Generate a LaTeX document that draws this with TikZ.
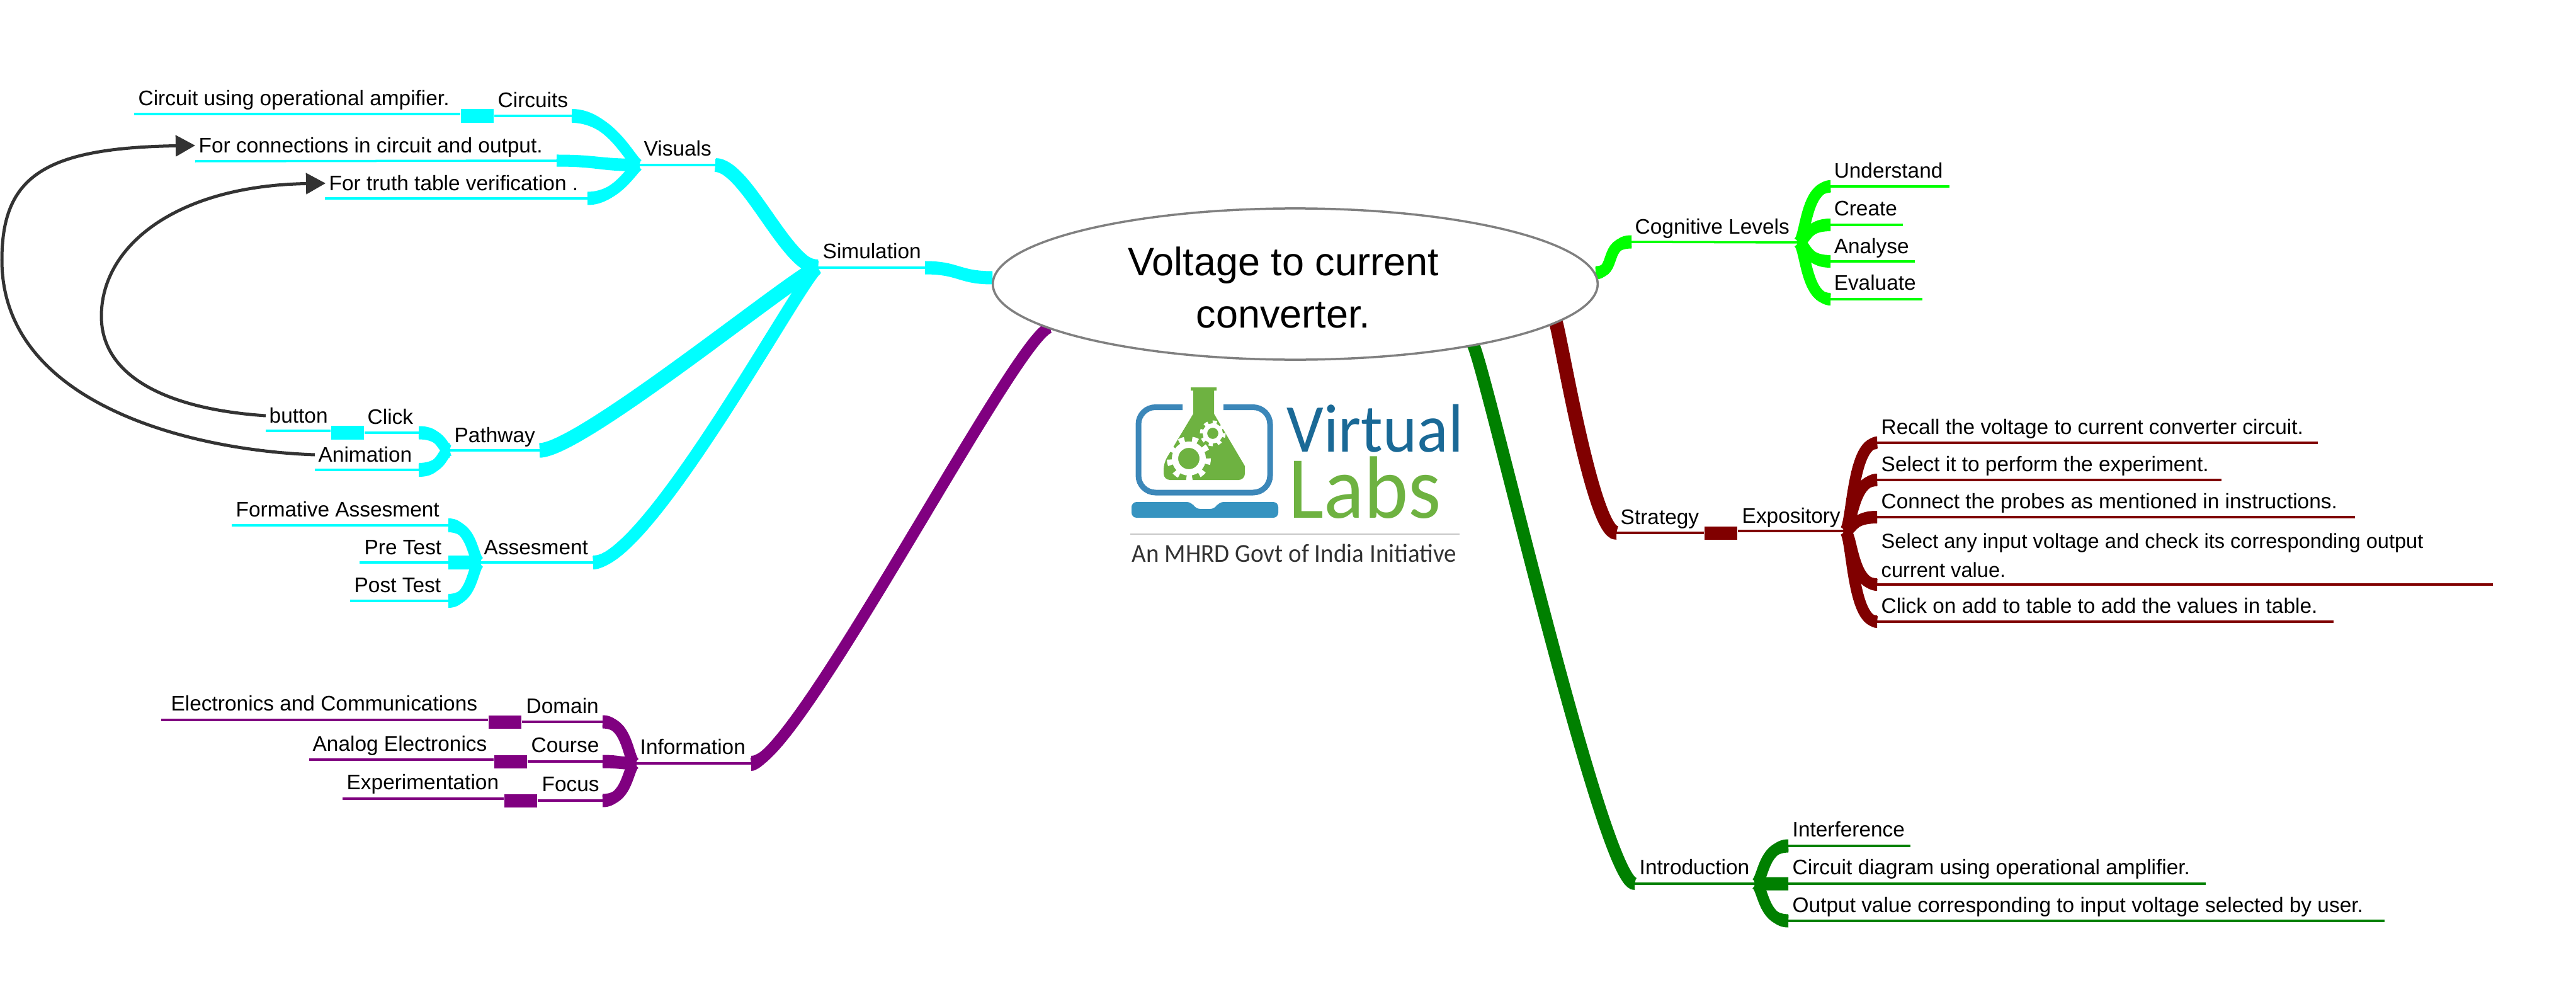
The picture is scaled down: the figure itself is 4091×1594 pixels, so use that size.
\documentclass[tikz,border=0pt]{standalone}
\usepackage{fontspec}
\setmainfont{Liberation Sans}
\newfontfamily\logofont[FakeStretch=.95]{Carlito}
\usetikzlibrary{arrows.meta,calc,shapes.geometric}

\definecolor{mapcyan}{RGB}{0,255,255}
\definecolor{maplime}{RGB}{0,255,0}
\definecolor{mapmaroon}{RGB}{128,0,0}
\definecolor{mappurple}{RGB}{128,0,128}
\definecolor{mapgreen}{RGB}{0,128,0}
\definecolor{linkgray}{RGB}{51,51,51}
\definecolor{logoblue}{RGB}{60,135,185}
\definecolor{logodark}{RGB}{26,105,150}
\definecolor{logogreen}{RGB}{110,178,65}

\tikzset{
  leaf/.style={anchor=base west, inner xsep=.05cm, inner ysep=0pt, text height=.29cm, text depth=.07cm,
    font=\fontsize{9.5}{13}\selectfont},
  leafwide/.style={anchor=north west, inner xsep=.05cm, inner ysep=0pt, align=left,
    font=\fontsize{9.27}{13}\selectfont},
  stem/.style={line width=.035cm},
  knot/.style={minimum width=.52cm, minimum height=.21cm, inner sep=0pt},
  link/.style={linkgray, line width=.05cm, -{Triangle[length=.31cm,width=.33cm]}},
  ribbonline/.style={line width=.18cm},
}

% colour, from, to, half height at from, half height at to, pull at from, pull at to
\newcommand{\ribbon}[7]{
  \fill[#1] let \p1=(#2), \p2=(#3), \n1={#6*(\x2-\x1)}, \n2={#7*(\x2-\x1)} in
    (\x1,\y1+#4) .. controls (\x1+\n1,\y1+#4) and (\x2-\n2,\y2+#5) .. (\x2,\y2+#5)
    -- (\x2,\y2-#5) .. controls (\x2-\n2,\y2-#5) and (\x1+\n1,\y1-#4) .. (\x1,\y1-#4) -- cycle;
  \draw[ribbonline,#1] let \p1=(#2), \p2=(#3), \n1={#6*(\x2-\x1)}, \n2={#7*(\x2-\x1)} in
    (#2) .. controls (\x1+\n1,\y1) and (\x2-\n2,\y2) .. (#3);
}

\begin{document}
\begin{tikzpicture}[x=.01cm,y=-.01cm]
  \useasboundingbox (0,0) rectangle (4091,1594);

  % Simulation branch
  \coordinate (simL) at (1299,425);
  \coordinate (simR) at (1469,425);
  \coordinate (rootCyan) at (1576,441);
  \coordinate (visL) at (1015,262);
  \coordinate (visR) at (1136,262);
  \coordinate (pathL) at (714,715);
  \coordinate (pathR) at (857,715);
  \coordinate (assL) at (763,893);
  \coordinate (assR) at (942,893);
  \ribbon{mapcyan}{simR}{rootCyan}{.105cm}{.105cm}{.5}{.5}
  \ribbon{mapcyan,line width=.22cm}{visR}{simL}{.1cm}{.13cm}{.3}{.3}
  \ribbon{mapcyan,line width=.23cm}{pathR}{simL}{.115cm}{.13cm}{.15}{.05}
  \ribbon{mapcyan,line width=.2cm}{assR}{simL}{.11cm}{.13cm}{.25}{.05}
  \draw[mapcyan,stem] (simL) -- (simR);
  \draw[mapcyan,stem] (visL) -- (visR);
  \draw[mapcyan,stem] (pathL) -- (pathR);
  \draw[mapcyan,stem] (assL) -- (assR);
  \node[leaf] (simulation) at (1301,410) {Simulation};
  \node[leaf] (visuals) at (1017,248) {Visuals};
  \node[leaf] (pathway) at (716,702) {Pathway};
  \node[leaf] (assesment) at (763,880) {Assesment};

  % Visuals leaves
  \coordinate (circuitsR) at (908,184);
  \coordinate (ampL) at (213,181);
  \coordinate (connL) at (310,256);
  \coordinate (connR) at (884,255);
  \coordinate (truthL) at (516,315);
  \coordinate (truthR) at (933,315);
  \node[knot,fill=mapcyan] (circuitsknot) at (758,184) {};
  \ribbon{mapcyan}{visL}{circuitsR}{.1cm}{.11cm}{.1}{.6}
  \ribbon{mapcyan}{visL}{connR}{.1cm}{.095cm}{.5}{.5}
  \ribbon{mapcyan}{visL}{truthR}{.1cm}{.105cm}{.1}{.6}
  \draw[mapcyan,stem] (ampL) -- (ampL -| circuitsknot.west);
  \draw[mapcyan,stem] (circuitsknot.east) -- (circuitsR);
  \draw[mapcyan,stem] (connL) -- (connR);
  \draw[mapcyan,stem] (truthL) -- (truthR);
  \node[leaf] (amp) at (214,168) {Circuit using operational ampifier.};
  \node[leaf] (circuits) at (785,170) {Circuits};
  \node[leaf] (conn) at (310,242) {For connections in circuit and output.};
  \node[leaf] (truth) at (517,302) {For truth table verification .};

  % Pathway leaves
  \coordinate (buttonL) at (422,684);
  \coordinate (clickR) at (665,687);
  \coordinate (animL) at (500,746);
  \coordinate (animR) at (665,746);
  \node[knot,fill=mapcyan] (clickknot) at (552,687) {};
  \ribbon{mapcyan}{pathL}{clickR}{.115cm}{.105cm}{.25}{.8}
  \ribbon{mapcyan}{pathL}{animR}{.115cm}{.11cm}{.25}{.8}
  \draw[mapcyan,stem] (buttonL) -- (buttonL -| clickknot.west);
  \draw[mapcyan,stem] (clickknot.east) -- (clickR);
  \draw[mapcyan,stem] (animL) -- (animR);
  \node[leaf] (button) at (422,671) {button};
  \node[leaf] (click) at (578,673) {Click};
  \node[leaf] (animation) at (500,733) {Animation};

  % Assesment leaves
  \coordinate (formL) at (368,834);
  \coordinate (formR) at (712,834);
  \coordinate (preL) at (571,893);
  \coordinate (preR) at (712,893);
  \coordinate (postL) at (556,954);
  \coordinate (postR) at (712,954);
  \ribbon{mapcyan}{assL}{formR}{.11cm}{.11cm}{.25}{.8}
  \ribbon{mapcyan}{assL}{preR}{.11cm}{.11cm}{.5}{.5}
  \ribbon{mapcyan}{assL}{postR}{.11cm}{.11cm}{.25}{.8}
  \draw[mapcyan,stem] (formL) -- (formR);
  \draw[mapcyan,stem] (preL) -- (preR);
  \draw[mapcyan,stem] (postL) -- (postR);
  \node[leaf] (formative) at (369,820) {Formative Assesment};
  \node[leaf] (pretest) at (573,880) {Pre Test};
  \node[leaf] (posttest) at (557,940) {Post Test};

  % Links between leaves
  \draw[link] (button.west) .. controls (270,650) and (161,600) .. (161,502)
    .. controls (161,390) and (280,295) .. (truth.west);
  \draw[link] (animation.west) .. controls (300,715) and (3,640) .. (3,413)
    .. controls (3,280) and (70,235) .. (conn.west);

  % Information branch
  \coordinate (infoL) at (1010,1212);
  \coordinate (infoR) at (1193,1212);
  \coordinate (rootPurple) at (1668,520);
  \coordinate (domainL) at (256,1143);
  \coordinate (domainR) at (957,1146);
  \coordinate (courseL) at (491,1206);
  \coordinate (courseR) at (957,1209);
  \coordinate (focusL) at (544,1268);
  \coordinate (focusR) at (957,1271);
  \node[knot,fill=mappurple] (domainknot) at (802,1146) {};
  \node[knot,fill=mappurple] (courseknot) at (811,1209) {};
  \node[knot,fill=mappurple] (focusknot) at (827,1271) {};
  \ribbon{mappurple}{infoR}{rootPurple}{.12cm}{.08cm}{.15}{.1}
  \ribbon{mappurple}{infoL}{domainR}{.1cm}{.105cm}{.25}{.8}
  \ribbon{mappurple}{infoL}{courseR}{.1cm}{.105cm}{.5}{.5}
  \ribbon{mappurple}{infoL}{focusR}{.1cm}{.105cm}{.25}{.8}
  \draw[mappurple,stem] (infoL) -- (infoR);
  \draw[mappurple,stem] (domainL) -- (domainL -| domainknot.west);
  \draw[mappurple,stem] (domainknot.east) -- (domainR);
  \draw[mappurple,stem] (courseL) -- (courseL -| courseknot.west);
  \draw[mappurple,stem] (courseknot.east) -- (courseR);
  \draw[mappurple,stem] (focusL) -- (focusL -| focusknot.west);
  \draw[mappurple,stem] (focusknot.east) -- (focusR);
  \node[leaf] (information) at (1011,1197) {Information};
  \node[leaf] (electronics) at (266,1128) {Electronics and Communications};
  \node[leaf] (domain) at (830,1132) {Domain};
  \node[leaf] (analog) at (491,1192) {Analog Electronics};
  \node[leaf] (course) at (838,1194) {Course};
  \node[leaf] (experimentation) at (545,1253) {Experimentation};
  \node[leaf] (focus) at (855,1256) {Focus};

  % Cognitive Levels branch
  \coordinate (rootLime) at (2534,433);
  \coordinate (cogL) at (2591,384);
  \coordinate (cogR) at (2855,385);
  \coordinate (understandL) at (2907,296);
  \coordinate (understandR) at (3096,296);
  \coordinate (createL) at (2907,357);
  \coordinate (createR) at (3022,357);
  \coordinate (analyseL) at (2907,415);
  \coordinate (analyseR) at (3041,415);
  \coordinate (evaluateL) at (2907,475);
  \coordinate (evaluateR) at (3053,475);
  \ribbon{maplime}{rootLime}{cogL}{.105cm}{.105cm}{.6}{.8}
  \ribbon{maplime}{cogR}{understandL}{.1cm}{.1cm}{.25}{.8}
  \ribbon{maplime}{cogR}{createL}{.1cm}{.1cm}{.25}{.8}
  \ribbon{maplime}{cogR}{analyseL}{.1cm}{.1cm}{.25}{.8}
  \ribbon{maplime}{cogR}{evaluateL}{.1cm}{.1cm}{.25}{.8}
  \draw[maplime,stem] (cogL) -- (cogR);
  \draw[maplime,stem] (understandL) -- (understandR);
  \draw[maplime,stem] (createL) -- (createR);
  \draw[maplime,stem] (analyseL) -- (analyseR);
  \draw[maplime,stem] (evaluateL) -- (evaluateR);
  \node[leaf] (cognitive) at (2591,371) {Cognitive Levels};
  \node[leaf] (understand) at (2907,282) {Understand};
  \node[leaf] (create) at (2907,342) {Create};
  \node[leaf] (analyse) at (2907,402) {Analyse};
  \node[leaf] (evaluate) at (2907,460) {Evaluate};

  % Strategy branch
  \coordinate (rootMaroon) at (2470,510);
  \coordinate (stratL) at (2567,846);
  \coordinate (expoR) at (2929,843);
  \coordinate (recallL) at (2981,703);
  \coordinate (recallR) at (3681,703);
  \coordinate (selectL) at (2981,762);
  \coordinate (selectR) at (3528,762);
  \coordinate (connectL) at (2981,821);
  \coordinate (connectR) at (3740,821);
  \coordinate (anyL) at (2981,928);
  \coordinate (anyR) at (3959,928);
  \coordinate (addL) at (2981,987);
  \coordinate (addR) at (3706,987);
  \node[knot,fill=mapmaroon] (strategyknot) at (2733,846) {};
  \ribbon{mapmaroon,line width=.22cm}{rootMaroon}{stratL}{.05cm}{.11cm}{.05}{.4}
  \ribbon{mapmaroon}{expoR}{recallL}{.1cm}{.1cm}{.25}{.8}
  \ribbon{mapmaroon}{expoR}{selectL}{.1cm}{.1cm}{.25}{.8}
  \ribbon{mapmaroon}{expoR}{connectL}{.1cm}{.1cm}{.25}{.8}
  \ribbon{mapmaroon}{expoR}{anyL}{.1cm}{.1cm}{.25}{.8}
  \ribbon{mapmaroon}{expoR}{addL}{.1cm}{.1cm}{.25}{.8}
  \draw[mapmaroon,stem] (stratL) -- (strategyknot.west);
  \draw[mapmaroon,stem] (strategyknot.east |- expoR) -- (expoR);
  \draw[mapmaroon,stem] (recallL) -- (recallR);
  \draw[mapmaroon,stem] (selectL) -- (selectR);
  \draw[mapmaroon,stem] (connectL) -- (connectR);
  \draw[mapmaroon,stem] (anyL) -- (anyR);
  \draw[mapmaroon,stem] (addL) -- (addR);
  \node[leaf] (strategy) at (2568,832) {Strategy};
  \node[leaf] (expository) at (2761,830) {Expository};
  \node[leaf] (recall) at (2982,689) {Recall the voltage to current converter circuit.};
  \node[leaf] (selectit) at (2982,748) {Select it to perform the experiment.};
  \node[leaf] (connect) at (2982,807) {Connect the probes as mentioned in instructions.};
  \node[leafwide] (selectany) at (2982,846) {Select any input voltage and check its corresponding output\\current value.};
  \node[leaf] (clickadd) at (2982,973) {Click on add to table to add the values in table.};

  % Introduction branch
  \coordinate (rootGreen) at (2338,545);
  \coordinate (introL) at (2596,1403);
  \coordinate (introR) at (2787,1403);
  \coordinate (interL) at (2840,1343);
  \coordinate (interR) at (3034,1343);
  \coordinate (diagramL) at (2840,1403);
  \coordinate (diagramR) at (3503,1403);
  \coordinate (outputL) at (2840,1462);
  \coordinate (outputR) at (3787,1462);
  \ribbon{mapgreen,line width=.2cm}{rootGreen}{introL}{.05cm}{.1cm}{.05}{.2}
  \ribbon{mapgreen}{introR}{interL}{.105cm}{.105cm}{.25}{.8}
  \ribbon{mapgreen}{introR}{diagramL}{.105cm}{.105cm}{.5}{.5}
  \ribbon{mapgreen}{introR}{outputL}{.105cm}{.105cm}{.25}{.8}
  \draw[mapgreen,stem] (introL) -- (introR);
  \draw[mapgreen,stem] (interL) -- (interR);
  \draw[mapgreen,stem] (diagramL) -- (diagramR);
  \draw[mapgreen,stem] (outputL) -- (outputR);
  \node[leaf] (introduction) at (2598,1388) {Introduction};
  \node[leaf] (interference) at (2841,1328) {Interference};
  \node[leaf] (diagram) at (2841,1388) {Circuit diagram using operational amplifier.};
  \node[leaf] (output) at (2841,1448) {Output value corresponding to input voltage selected by user.};

  % Central topic
  \node[ellipse, draw=gray, fill=white, line width=.035cm, minimum width=9.6cm, minimum height=2.4cm, inner sep=0pt] (root) at (2057,451) {};
  \node[align=center, font=\fontsize{17.9}{23.6}\selectfont] (title) at (2038,456) {Voltage to current\\converter.};

  % Logo
  \draw[logoblue, line width=.09cm, rounded corners=.27cm] (1878,646.5) -- (1808,646.5) -- (1808,782) -- (2017,782) -- (2017,646.5) -- (1943,646.5);
  \fill[logoblue!90!cyan, rounded corners=.08cm] (1797,797) -- (1893,797) -- (1898,808) -- (1930,808) -- (1935,797) -- (2030,797) -- (2030,822) -- (1797,822) -- cycle;
  \fill[logogreen] (1891,615) -- (1932,615) -- (1932,620) -- (1928,620) -- (1928,657) -- (1977,740)
    [rounded corners=.1cm] -- (1977,762) -- (1848,762) -- (1848,735) [sharp corners] -- (1895,657) -- (1895,620) -- (1891,620) -- cycle;
  \coordinate (biggear) at (1888,728);
  \coordinate (smallgear) at (1926,688);
  \draw[white, line width=.1cm] (biggear) circle (22);
  \draw[white, line width=.1cm, dash pattern=on .09cm off .119cm] (biggear) circle (30);
  \draw[white, line width=.07cm] (smallgear) circle (12.5);
  \draw[white, line width=.05cm, dash pattern=on .065cm off .076cm] (smallgear) circle (18);
  \node[anchor=base west, inner sep=0pt, text=logodark, font=\logofont\fontsize{30.9}{31}\selectfont] (virtual) at (2043,717) {Virtual};
  \node[anchor=base west, inner sep=0pt, text=logogreen, font=\logofont\fontsize{40}{40}\selectfont] (labs) at (2046,822) {Labs};
  \coordinate (ruleL) at (1795,848);
  \coordinate (ruleR) at (2318,848);
  \draw[black!22, line width=.025cm] (ruleL) -- (ruleR);
  \node[anchor=base west, inner sep=0pt, text=black!80, font=\logofont\fontsize{11.7}{12}\selectfont] (initiative) at (1797,892) {An MHRD Govt of India Initiative};
\end{tikzpicture}
\end{document}
